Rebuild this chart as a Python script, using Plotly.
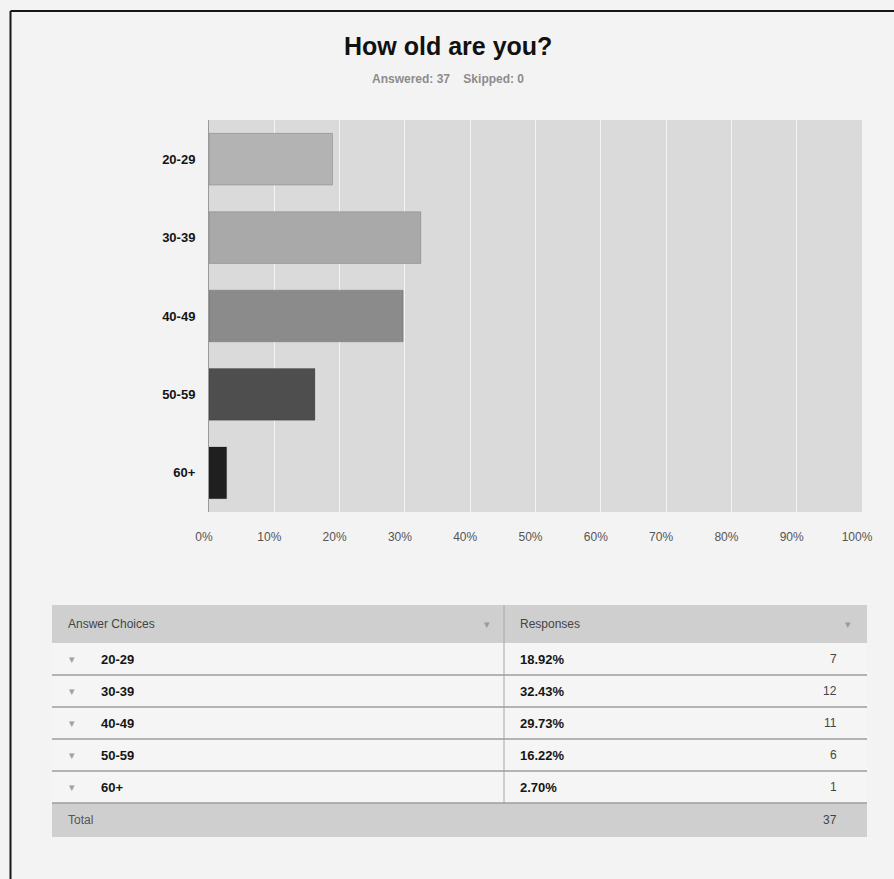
import plotly.graph_objects as go

# Survey question: age of respondents
age_groups = ["20-29", "30-39", "40-49", "50-59", "60+"]
percents = [18.92, 32.43, 29.73, 16.22, 2.70]
counts = [7, 12, 11, 6, 1]
answered = 37
skipped = 0
x_ticks = [0, 10, 20, 30, 40, 50, 60, 70, 80, 90, 100]
bar_colors = ["#b3b3b3", "#a9a9a9", "#8b8b8b", "#4e4e4e", "#1f1f1f"]

W, H = 894, 879
PL, PR, PT, PB = 209, 862, 120, 512  # plot area in pixels


def px(x):
    return (x - PL) / (PR - PL)


def py(y):
    return (PB - y) / (PB - PT)


def note(x, y, text, size=12, color="#151515", xanchor="center", bold=False):
    if bold:
        text = f"<b>{text}</b>"
    return dict(xref="paper", yref="paper", x=px(x), y=py(y), text=text,
                showarrow=False, xanchor=xanchor, yanchor="middle",
                font=dict(family="Arial, Liberation Sans", size=size, color=color))


fig = go.Figure()
fig.add_trace(go.Bar(
    y=age_groups,
    x=percents,
    orientation="h",
    marker=dict(color=bar_colors, line=dict(color="rgba(0,0,0,0.22)", width=0.8)),
    width=0.66,
    hoverinfo="skip",
))

shapes = []
annotations = []

# outer frame
shapes.append(dict(type="line", xref="paper", yref="paper",
                   x0=px(10.5), x1=px(W + 5), y0=py(11), y1=py(11),
                   line=dict(color="#161616", width=2)))
shapes.append(dict(type="line", xref="paper", yref="paper",
                   x0=px(10.5), x1=px(10.5), y0=py(11), y1=py(H + 5),
                   line=dict(color="#161616", width=2)))

# title and subtitle
annotations.append(note(448, 46, "How old are you?", size=25, color="#111111", bold=True))
annotations.append(note(448, 79, f"Answered: {answered}    Skipped: {skipped}",
                        size=12, color="#8c8c8c", bold=True))

# results table
T_L, T_R, T_DIV = 52, 867, 504
HEAD_TOP, HEAD_BOT = 605, 643
ROW_H = 32
rows_top = HEAD_BOT
total_top = rows_top + ROW_H * len(age_groups)
total_bot = total_top + 34

shapes.append(dict(type="rect", xref="paper", yref="paper", layer="below",
                   x0=px(T_L), x1=px(T_R), y0=py(HEAD_TOP), y1=py(HEAD_BOT),
                   fillcolor="#cfcfcf", line=dict(width=0)))
shapes.append(dict(type="rect", xref="paper", yref="paper", layer="below",
                   x0=px(T_L), x1=px(T_R), y0=py(HEAD_BOT), y1=py(total_top),
                   fillcolor="#f5f5f5", line=dict(width=0)))
shapes.append(dict(type="rect", xref="paper", yref="paper", layer="below",
                   x0=px(T_L), x1=px(T_R), y0=py(total_top), y1=py(total_bot),
                   fillcolor="#cfcfcf", line=dict(width=0)))
shapes.append(dict(type="line", xref="paper", yref="paper",
                   x0=px(T_DIV), x1=px(T_DIV), y0=py(HEAD_TOP), y1=py(total_top),
                   line=dict(color="#a8a8a8", width=1)))
for i in range(1, len(age_groups) + 1):
    yy = rows_top + ROW_H * i
    shapes.append(dict(type="line", xref="paper", yref="paper",
                       x0=px(T_L), x1=px(T_R), y0=py(yy), y1=py(yy),
                       line=dict(color="#9c9c9c", width=1.5)))

hc = (HEAD_TOP + HEAD_BOT) / 2
annotations += [
    note(66, hc, "Answer Choices", color="#444444", xanchor="left"),
    note(487, hc, "▾", size=11, color="#9a9a9a"),
    note(518, hc, "Responses", color="#444444", xanchor="left"),
    note(848, hc, "▾", size=11, color="#9a9a9a"),
]
for i, (g, p, c) in enumerate(zip(age_groups, percents, counts)):
    cy = rows_top + ROW_H * i + ROW_H / 2
    annotations += [
        note(72, cy, "▾", size=11, color="#a0a0a0"),
        note(99, cy, g, size=13, xanchor="left", bold=True),
        note(518, cy, f"{p:.2f}%", size=13, xanchor="left", bold=True),
        note(839, cy, str(c), size=12, color="#444444", xanchor="right"),
    ]
tc = (total_top + total_bot) / 2
annotations += [
    note(66, tc, "Total", color="#555555", xanchor="left"),
    note(839, tc, str(sum(counts)), color="#444444", xanchor="right"),
]

fig.update_layout(
    width=W, height=H,
    margin=dict(l=PL, r=W - PR, t=PT, b=H - PB, pad=0),
    paper_bgcolor="#f3f3f3",
    plot_bgcolor="#dadada",
    showlegend=False,
    shapes=shapes,
    annotations=annotations,
    xaxis=dict(
        range=[0, 100],
        tickvals=x_ticks,
        ticktext=[f"{t}%" for t in x_ticks],
        showgrid=True, gridcolor="#f4f4f4", gridwidth=1,
        zeroline=False, showline=False, ticks="",
        ticklabelstandoff=16, ticklabelshift=-5,
        tickfont=dict(family="Arial, Liberation Sans", size=12, color="#555555"),
        fixedrange=True,
    ),
    yaxis=dict(
        categoryorder="array", categoryarray=age_groups[::-1],
        tickvals=age_groups,
        ticktext=[f"<b>{g}</b>" for g in age_groups],
        showgrid=False, zeroline=False,
        showline=True, linecolor="#9a9a9a", linewidth=1,
        ticks="", ticklabelstandoff=10,
        tickfont=dict(family="Arial, Liberation Sans", size=13, color="#151515"),
        fixedrange=True,
    ),
)

fig.write_html("out.html")
